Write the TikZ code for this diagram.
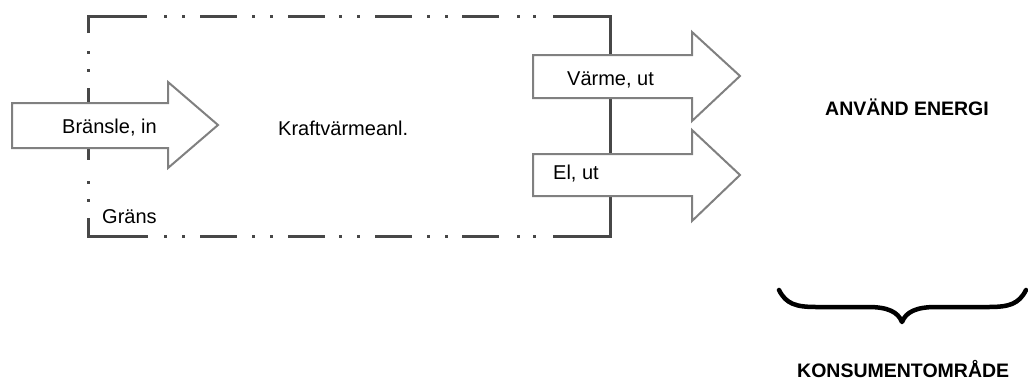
\documentclass[tikz,border=0pt]{standalone}
\usepackage{fontspec}
\setmainfont{Liberation Sans}
\begin{document}
\begin{tikzpicture}[x=1pt,y=-1pt,
  bnd/.style={draw=black!72, line width=3pt, line cap=butt, line join=miter},
  arr/.style={draw=black!50, fill=white, line width=2pt, line join=miter},
  lbl/.style={anchor=base west, inner sep=0pt, font=\fontsize{20}{24}\selectfont},
  blbl/.style={anchor=base west, inner sep=0pt, font=\fontsize{19.5}{24}\selectfont\bfseries},
  bracestyle/.style={draw=black, line width=4.5pt, line cap=round, line join=round}]
\useasboundingbox (0,0) rectangle (1028,381);

% system boundary (dash-dot-dot)
\draw[bnd] (88,33) -- (88,16) -- (147,16);
\draw[bnd] (88,218) -- (88,236) -- (148,236);
\draw[bnd] (553,16) -- (610,16) -- (610,236) -- (553,236);
\draw[bnd] (88,88) -- (88,160);
\foreach \y in {51,69,181,199} \draw[bnd] (88,\y) -- ++(0,2.5);
\foreach \x in {200,288,375,462} {
  \draw[bnd] (\x,16) -- ++(37,0);
  \draw[bnd] (\x,236) -- ++(37,0);
}
\foreach \x in {164,182,252,270,339,357,427,445,517,533} {
  \draw[bnd] (\x,16) -- ++(2.5,0);
  \draw[bnd] (\x,236) -- ++(2.5,0);
}

% arrows
\draw[arr] (12,103) -- (168,103) -- (168,82) -- (218,125) -- (168,168) -- (168,148) -- (12,148) -- cycle;
\draw[arr] (533,55) -- (692,55) -- (692,32) -- (740,76) -- (692,121) -- (692,98) -- (533,98) -- cycle;
\draw[arr] (533,154) -- (692,154) -- (692,130) -- (740,175) -- (692,221) -- (692,196) -- (533,196) -- cycle;

% labels
\node[lbl] (bransle) at (62,133) {Bränsle, in};
\node[lbl] (kraft) at (278,135) {Kraftvärmeanl.};
\node[lbl] (varme) at (567,85) {Värme, ut};
\node[lbl] (el) at (553,179) {El, ut};
\node[lbl] (grans) at (102,223) {Gräns};
\node[blbl] (anvand) at (825,115) {ANVÄND ENERGI};
\node[blbl] (konsument) at (797,377) {KONSUMENTOMRÅDE};

% brace
\draw[bracestyle] (779,290) .. controls (786,304) and (796,307) .. (816,307)
  -- (868,307) .. controls (888,307) and (898,312) .. (902,322)
  .. controls (906,312) and (916,307) .. (936,307)
  -- (989,307) .. controls (1009,307) and (1019,304) .. (1026,290);
\end{tikzpicture}
\end{document}
